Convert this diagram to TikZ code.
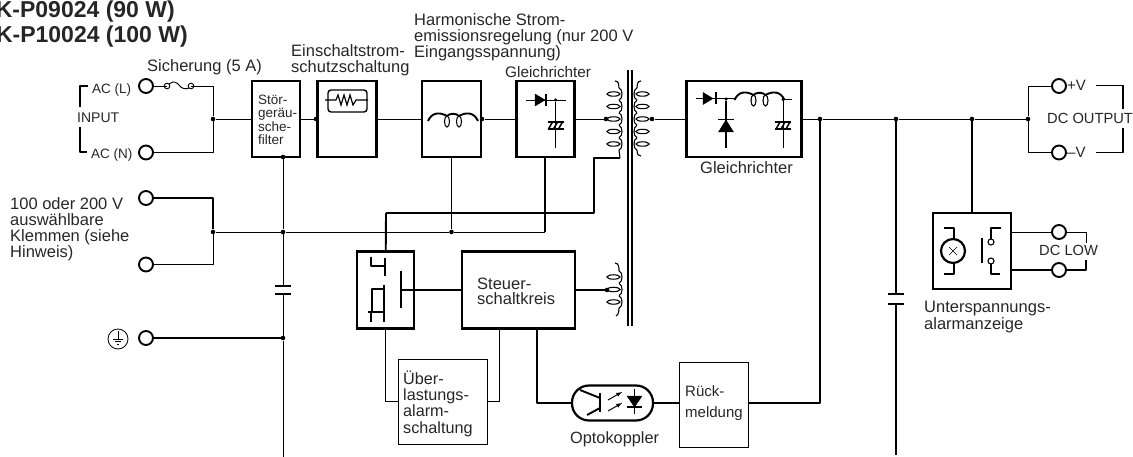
\documentclass[tikz,border=0pt]{standalone}
\usepackage{fontspec}
\setmainfont{Liberation Sans}

\tikzset{
    wire/.style={line width=0.95pt,line join=round},
    heavy/.style={line width=1.9pt,line join=round},
    bigbox/.style={draw,line width=2.6pt,inner sep=0pt},
    slimbox/.style={draw,line width=0.9pt,inner sep=0pt},
    terminal/.style={draw,circle,line width=1.9pt,fill=white,minimum size=14pt,inner sep=0pt},
    junction/.style={circle,fill=black,minimum size=4.6pt,inner sep=0pt},
    lbl/.style={inner sep=0pt,align=left,anchor=base west,text=black!85,font=\fontsize{16.5}{16}\selectfont},
    smalllbl/.style={lbl,font=\fontsize{13.5}{13.5}\selectfont},
    winding/.pic={
        \draw[line width=1.1pt] (-5.5,0) ellipse (6.5 and 2.2);
        \draw[line width=1.1pt] (0,-6.2) .. controls (4,-5) and (4,5) .. (0,6.2);
    },
    choke/.pic={
        \draw[heavy] (-25,2) .. controls (-21,-7) and (-13,-7) .. (-6,-3);
        \draw[heavy] (-6,-3) .. controls (-3,-6) and (3,-6) .. (6,-3);
        \draw[heavy] (6,-3) .. controls (13,-7) and (21,-7) .. (25,2);
        \draw[line width=1.1pt] (-6,2.5) ellipse (2.5 and 5.5);
        \draw[line width=1.1pt] (6,2.5) ellipse (2.5 and 5.5);
    },
    ecap/.pic={
        \draw[heavy] (-8,-3.5) -- (8,-3.5) (-8,3.5) -- (8,3.5);
        \foreach \s in {-5,0,5}
            \draw[line width=1.5pt] (\s-2,3.5) -- (\s+2,-3.5);
    },
}

\begin{document}
\begin{tikzpicture}[x=1pt,y=-1pt]
    \useasboundingbox (0,0) rectangle (1133,457);

    %titles
    \node[lbl,anchor=base east,font=\fontsize{23}{23}\selectfont\bfseries] (title1) at (175,18) {K-P09024 (90 W)};
    \node[lbl,anchor=base east,font=\fontsize{23}{23}\selectfont\bfseries] (title2) at (188,43) {K-P10024 (100 W)};

    %terminals
    \node[terminal] (acl) at (146,86) {};
    \node[terminal] (acn) at (146,152.5) {};
    \node[terminal] (sela) at (146,198) {};
    \node[terminal] (selb) at (146,264.5) {};
    \node[terminal] (earth) at (146,338) {};
    \node[terminal] (plus) at (1059,86) {};
    \node[terminal] (minus) at (1059,152.5) {};
    \node[terminal] (lowa) at (1059,232) {};
    \node[terminal] (lowb) at (1059,270) {};

    %boxes
    \node[bigbox,minimum width=48pt,minimum height=76pt] (filter) at (276,119) {};
    \node[bigbox,minimum width=59pt,minimum height=76pt] (rush) at (347,119) {};
    \node[bigbox,minimum width=59pt,minimum height=76pt] (harm) at (451.5,119) {};
    \node[bigbox,minimum width=58pt,minimum height=76pt] (rect) at (545.5,119) {};
    \node[bigbox,minimum width=115pt,minimum height=76pt] (outrect) at (744,119) {};
    \node[bigbox,minimum width=57pt,minimum height=77pt] (switch) at (385.5,290) {};
    \node[bigbox,minimum width=113pt,minimum height=77pt] (steuer) at (518.5,290) {};
    \node[bigbox,minimum width=78pt,minimum height=76pt] (alarm) at (972,251) {};
    \node[slimbox,minimum width=89pt,minimum height=85pt] (over) at (442.5,401.5) {};
    \node[slimbox,minimum width=69pt,minimum height=85pt] (back) at (713.5,404.5) {};
    \node[draw,line width=2.2pt,rounded corners=17pt,minimum width=81pt,minimum height=35pt,inner sep=0pt] (opto) at (612.5,403) {};

    %junctions
    \node[junction] (jin) at (213,119) {};
    \node[junction] (jsel) at (213,232) {};
    \node[junction] (jrush) at (316,119) {};
    \node[junction] (jharm) at (482,119) {};
    \node[junction] (jfilt) at (283,157) {};
    \node[junction] (jbus) at (283,232) {};
    \node[junction] (jearth) at (283,338) {};
    \node[junction] (jmid) at (451.5,232) {};
    \node[junction] (jpri) at (606,119) {};
    \node[junction] (jsec) at (652,119) {};
    \node[junction] (jfb) at (820,119) {};
    \node[junction] (jcap) at (896,119) {};
    \node[junction] (jlow) at (972,119) {};
    \node[junction] (jout) at (1028,119) {};
    \node[junction] (jaux) at (607,290) {};

    %free ends
    \coordinate (fuse1) at (167,86);
    \coordinate (fuse2) at (191,86);
    \coordinate (rectb) at (545,157);
    \coordinate (rectc) at (545,232);
    \coordinate (cap1) at (283,286);
    \coordinate (cap2) at (283,294);
    \coordinate (cap3) at (896,294);
    \coordinate (cap4) at (896,304);
    \coordinate (end1) at (283,457);
    \coordinate (end2) at (896,455);
    \coordinate (upa) at (386,213);
    \coordinate (upb) at (594,158);
    \coordinate (upc) at (620,158);
    \coordinate (stc) at (499,328);
    \coordinate (std) at (537,328);

    %wires
    \draw[wire] (acl) -- (fuse1);
    \draw[wire] (fuse2) -| (jin);
    \draw[wire] (acn) -| (jin);
    \draw[wire] (jin) -- (filter);
    \draw[wire] (filter) -- (jrush) -- (rush);
    \draw[wire] (rush) -- (harm);
    \draw[wire] (harm) -- (jharm) -- (rect);
    \draw[wire] (rect) -- (jpri);
    \draw[wire] (jsec) -- (outrect);
    \draw[wire] (outrect) -- (jfb) -- (jcap) -- (jlow) -- (jout);
    \draw[heavy] (sela) -| (jsel);
    \draw[wire] (selb) -| (jsel);
    \draw[wire] (jsel) -- (jbus) -- (jmid) -- (rectc);
    \draw[wire] (jfilt) -- (jbus) -- (cap1);
    \draw[wire] (cap2) -- (jearth) -- (end1);
    \draw[heavy] (earth) -- (jearth);
    \draw[wire] (harm) -- (jmid);
    \draw[heavy] (rectb) -- (rectc);
    \draw[heavy] (upa) -- (switch);
    \draw[heavy] (upa) -| (upb) -- (upc);
    \draw[heavy] (switch) -- (steuer);
    \draw[heavy] (steuer) -- (jaux);
    \draw[heavy] (switch) |- (over);
    \draw[wire] (over) -| (stc);
    \draw[heavy] (std) |- (opto);
    \draw[heavy] (opto) -- (opto -| back.west);
    \draw[heavy] (opto -| back.east) -| (jfb);
    \draw[heavy] (jcap) -- (cap3);
    \draw[heavy] (cap4) -- (end2);
    \draw[heavy] (jlow) -- (alarm);
    \draw[wire] (jout) |- (plus);
    \draw[wire] (jout) |- (minus);
    \draw[wire] (alarm.east |- lowa) -- (lowa);
    \draw[heavy] (alarm.east |- lowb) -- (lowb);

    %capacitors
    \draw[heavy] ([xshift=-8pt]cap1) -- ([xshift=8pt]cap1);
    \draw[heavy] ([xshift=-8pt]cap2) -- ([xshift=8pt]cap2);
    \draw[heavy] ([xshift=-8pt]cap3) -- ([xshift=8pt]cap3);
    \draw[heavy] ([xshift=-8pt]cap4) -- ([xshift=8pt]cap4);

    %fuse
    \draw[wire] (fuse1) circle (2.8);
    \draw[wire] (fuse2) circle (2.8);
    \draw[wire] (169,84) .. controls (174,80) and (177,83) .. (179,85) .. controls (181,88) and (185,90) .. (189,88);

    %inrush element
    \draw[line width=1.4pt,rounded corners=3pt] (328,90) rectangle (367,112);
    \draw[line width=1.2pt] (325,100) -- (336,100) -- (338,95) -- (341,105) -- (344,95) -- (347,105) -- (350,95) -- (353,105) -- (356,100) -- (368,100);

    %rectifiers and chokes
    \pic at (453,119) {choke};
    \pic at (759.5,98) {choke};
    \draw[wire] (526,100) -- (566,100);
    \draw[fill] (535,94) -- (545,100) -- (535,106) -- cycle;
    \draw[heavy] (546,94) -- (546,106);
    \node[junction,minimum size=3.5pt] (drect) at (555.5,100) {};
    \draw[wire] (drect) -- (555.5,148);
    \pic at (555.5,125.5) {ecap};
    \draw[wire] (696,98.5) -- (735,98.5);
    \draw[fill] (703,92.5) -- (713,98.5) -- (703,104.5) -- cycle;
    \draw[heavy] (716,92.5) -- (716,104.5);
    \node[junction,minimum size=3.5pt] (dout) at (726,99) {};
    \draw[heavy] (dout) -- (726,148);
    \draw[heavy] (718,119.5) -- (734,119.5);
    \draw[fill] (726,120) -- (733.5,132) -- (718.5,132) -- cycle;
    \node[junction,minimum size=3.5pt] (dcho) at (783,99.5) {};
    \draw[wire] (dcho) -- (792,99.5);
    \draw[wire] (dcho) -- (783,148);
    \pic at (783,125.5) {ecap};

    %transformer
    \draw[line width=1.1pt] (628,70) -- (628,326) (632,70) -- (632,326);
    \foreach \y in {94,106.5,119,131.5,144}{
        \pic at (619,\y) {winding};
        \pic[xscale=-1] at (637,\y) {winding};
    }
    \draw[line width=1.1pt] (615,81) .. controls (619,81) and (619,85) .. (619,87.8);
    \draw[line width=1.1pt] (619,150.2) .. controls (619,153) and (620,155) .. (620,158);
    \draw[line width=1.1pt] (641,81) .. controls (637,81) and (637,85) .. (637,87.8);
    \draw[line width=1.1pt] (637,150.2) .. controls (637,153) and (637,155) .. (641,156);
    \foreach \y in {277,289.5,302}
        \pic at (619,\y) {winding};
    \draw[line width=1.1pt] (615,263) .. controls (619,263) and (619,268) .. (619,270.8);
    \draw[line width=1.1pt] (619,308.2) .. controls (619,311) and (619,314) .. (616,316);

    %switch element
    \draw[heavy] (371,257) -- (371,266) -- (385,266);
    \draw[heavy] (385,258) -- (385,276);
    \draw[heavy] (384,285) -- (384,322);
    \draw[heavy] (372,312) -- (372,289) -- (383,289);
    \draw[heavy] (368,312) -- (385,312);
    \draw[heavy] (371,312) -- (371,322);
    \draw[heavy] (401,271) -- (401,308);
    \draw[heavy] (401,290) -- (switch.east);

    %optocoupler
    \draw[heavy] (600,393) -- (600,412);
    \draw[heavy] (580,390) -- (600,398);
    \draw[heavy] (600,408) -- (587,415);
    \draw[wire,-latex] (608,400) -- (622,392);
    \draw[wire,-latex] (608,411) -- (622,403);
    \draw[wire] (634.5,389) -- (634.5,414);
    \draw[fill] (627,396) -- (642,396) -- (634.5,407) -- cycle;
    \draw[heavy] (627,407) -- (642,407);

    %lamp and contact
    \draw[heavy] (944,228) -- (954,228) -- (954,239);
    \draw[heavy] (954,263) -- (954,274) -- (944,274);
    \draw[line width=2.2pt] (953,251) circle (12);
    \draw[line width=0.6pt] (949,247) -- (957,255) (949,255) -- (957,247);
    \draw[heavy] (982,238) -- (982,263);
    \draw[line width=1.1pt] (991,242) circle (3) (991,261) circle (3);
    \draw[heavy] (1001,228) -- (991,228) -- (991,239);
    \draw[heavy] (991,264) -- (991,274) -- (1000,274);

    %brackets
    \draw[heavy] (88,86) -| (80,107);
    \draw[heavy] (80,127) |- (87,152);
    \draw[heavy] (1096,85.5) -| (1123,109);
    \draw[heavy] (1123,128) |- (1096,152.5);
    \draw[wire] (lowa) -| (1086,243);
    \draw[heavy] (lowb) -| (1086,260);

    %earth sign
    \node[draw,circle,line width=0.8pt,minimum size=20pt,inner sep=0pt] (esign) at (118,339) {};
    \draw[line width=0.7pt] (118,331) -- (118,339) (113,339) -- (123,339) (115,341.5) -- (121,341.5) (117,344) -- (119,344);

    %labels
    \node[lbl] (t1) at (147,72) {Sicherung (5 A)};
    \node[lbl] (t2) at (291,73) {Einschaltstrom-\\schutzschaltung};
    \node[lbl] (t3) at (414,58) {Harmonische Strom-\\emissionsregelung (nur 200 V\\Eingangsspannung)};
    \node[lbl,font=\fontsize{15.3}{15.3}\selectfont] (t4) at (505,78) {Gleichrichter};
    \node[lbl] (t5) at (700,174) {Gleichrichter};
    \node[lbl] (t6) at (10,258) {100 oder 200 V\\auswählbare\\Klemmen (siehe\\Hinweis)};
    \node[smalllbl] (t7) at (92,94) {AC (L)};
    \node[smalllbl] (t8) at (91,159) {AC (N)};
    \node[smalllbl] (t9) at (258,145) {Stör-\\geräu-\\sche-\\filter};
    \node[lbl,font=\fontsize{16.5}{15.5}\selectfont] (t10) at (477,305) {Steuer-\\schaltkreis};
    \node[lbl,font=\fontsize{16.2}{16.3}\selectfont] (t11) at (403,433) {Über-\\lastungs-\\alarm-\\schaltung};
    \node[lbl,font=\fontsize{15}{21}\selectfont] (t12) at (685,417) {Rück-\\meldung};
    \node[lbl,font=\fontsize{16.3}{15}\selectfont] (t13) at (570,443) {Optokoppler};
    \node[lbl,font=\fontsize{16.5}{14}\selectfont] (t14) at (924,329) {Unterspannungs-\\alarmanzeige};
    \node[lbl,font=\fontsize{15}{15}\selectfont] (t15) at (1067,91) {+V};
    \node[lbl,font=\fontsize{15}{15}\selectfont] (t16) at (1067,158) {–V};
    \node[lbl,font=\fontsize{14}{14}\selectfont] (t17) at (77,123) {INPUT};
    \node[lbl,font=\fontsize{14.7}{14.7}\selectfont] (t18) at (1047,124) {DC OUTPUT};
    \node[lbl,font=\fontsize{14.7}{14.7}\selectfont] (t19) at (1039,256) {DC LOW};
\end{tikzpicture}
\end{document}
